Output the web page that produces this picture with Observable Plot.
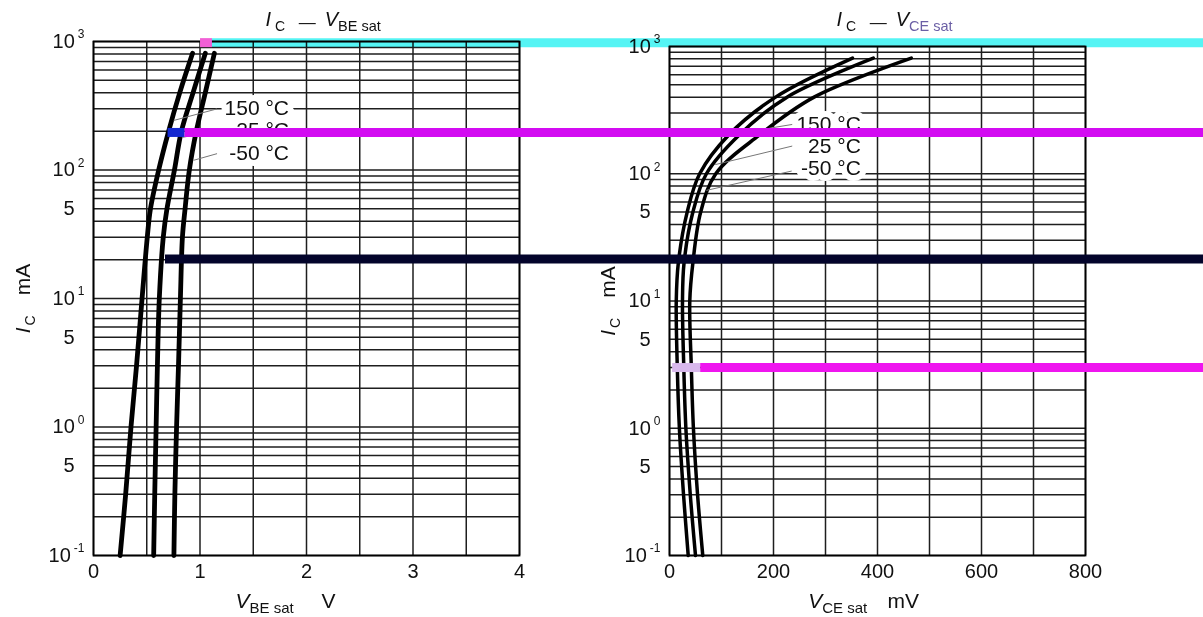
<!DOCTYPE html>
<html><head><meta charset="utf-8">
<script src="https://cdn.jsdelivr.net/npm/d3@7"></script>
<script src="https://cdn.jsdelivr.net/npm/@observablehq/plot@0.6"></script>
<style>
html,body{margin:0;padding:0;background:#fff;overflow:hidden;}
#wrap{position:relative;width:1203px;height:617px;background:#fff;}
#wrap svg{position:absolute;left:0;top:0;}
</style></head><body><div id="wrap"></div>
<script>
// ---------------- data ----------------
const temps = ["150 °C", "25 °C", "-50 °C"];

// Left panel: IC (mA) vs VBE sat (V)
const icLeft = [0.1, 0.3, 1, 3, 10, 30, 50, 100, 200, 400, 810];
const vbe150 = [0.25, 0.302, 0.352, 0.404, 0.456, 0.505, 0.535, 0.612, 0.705, 0.81, 0.93];
const vbe25  = [0.565, 0.575, 0.588, 0.60, 0.618, 0.655, 0.69, 0.76, 0.825, 0.935, 1.05];
const vbeM50 = [0.755, 0.764, 0.78, 0.798, 0.816, 0.835, 0.86, 0.90, 0.965, 1.05, 1.135];

// Right panel: IC (mA) vs VCE sat (mV)
const icRight = [0.1, 0.3, 1, 3, 10, 20, 50, 100, 200, 400, 810];
const vce150 = [64, 54, 46, 42, 39, 45, 60, 89, 172, 278, 465];
const vce25  = [50, 40, 31.5, 27.5, 25, 28, 45, 71, 133, 226, 392];
const vceM50 = [36, 27, 19, 15, 13, 17, 34, 58, 113, 204, 352];

// tick values / labels
const xTicksLeft = [0, 1, 2, 3, 4];
const xTicksRight = [0, 200, 400, 600, 800];
const gridXLeft = [0, 0.5, 1, 1.5, 2, 2.5, 3, 3.5, 4];
const gridXRight = [0, 100, 200, 300, 400, 500, 600, 700, 800];
const yPowTicks = [1000, 100, 10, 1, 0.1];
const yPowLabels = ["10^3", "10^2", "10^1", "10^0", "10^-1"];
const yFiveTicks = [50, 5, 0.5];
const yFiveLabels = ["5", "5", "5"];
const decades = [0.1, 1, 10, 100];
const mantissas = [1, 2, 3, 4, 5, 6, 7, 8, 9];

// annotation anchors (data units)
const labelVLeft = [1.836, 1.836, 1.836];
const labelILeft = [301, 203, 134];
const ptrV1Left = [1.16, 1.16, 1.16];
const ptrI1Left = [299, 203, 134];
const ptrV2Left = [0.753, 0.83, 0.94];
const ptrI2Left = [243, 179, 119];

const labelVRight = [368, 368, 368];
const labelIRight = [244, 164, 111];
const ptrV1Right = [236, 236, 235];
const ptrI1Right = [244, 165, 105];
const ptrV2Right = [192, 88, 71];
const ptrI2Right = [228, 118, 74];

// scan highlight bands (levels in mA, extents in axis units)
const bandLevelLeft = [980, 196, 20.3];
const bandHeadLeft = [1.005, 0.70, 0.676];
const bandStartLeft = [1.117, 0.86, 0.676];
const bandEndLeft = 12;
const bandLevelRight = [3.0];
const bandHeadRight = [6];
const bandStartRight = [60];
const bandEndRight = 1100;

// ---------------- build ----------------
const W = 1203, H = 617;
const FONT = "'Liberation Sans', Arial, Helvetica, sans-serif";
const GRID = "#1e1e1e";
const bandColorsLeft = ["#55f4f4", "#d30cf2", "#03042b"];
const bandHeadColorsLeft = ["#f25fd6", "#1428d0", "#03042b"];
const bandBlendLeft = ["multiply", "normal", "normal"];
const bandColorsRight = ["#ef15ef"];
const bandHeadColorsRight = ["#d8b8ec"];
const bandBlendRight = ["normal"];

const gridY = decades.flatMap(d => mantissas.map(m => m * d)).concat([1000]);
const powRows = yPowTicks.map((v, k) => ({v, s: yPowLabels[k]}));
const fiveRows = yFiveTicks.map((v, k) => ({v, s: yFiveLabels[k]}));

const rowsLeft = [vbe150, vbe25, vbeM50].flatMap((s, k) => icLeft.map((I, j) => ({t: temps[k], i: I, v: s[j]})));
const rowsRight = [vce150, vce25, vceM50].flatMap((s, k) => icRight.map((I, j) => ({t: temps[k], i: I, v: s[j]})));
const labLeft = temps.map((t, k) => ({t, v: labelVLeft[k], i: labelILeft[k]}));
const labRight = temps.map((t, k) => ({t, v: labelVRight[k], i: labelIRight[k]}));
const ptrLeft = temps.map((t, k) => ({x1: ptrV1Left[k], y1: ptrI1Left[k], x2: ptrV2Left[k], y2: ptrI2Left[k]}));
const ptrRight = temps.map((t, k) => ({x1: ptrV1Right[k], y1: ptrI1Right[k], x2: ptrV2Right[k], y2: ptrI2Right[k]}));
const bandsLeft = bandLevelLeft.map((lv, k) => ({lv, head: bandHeadLeft[k], start: bandStartLeft[k], end: bandEndLeft}));
const bandsRight = bandLevelRight.map((lv, k) => ({lv, head: bandHeadRight[k], start: bandStartRight[k], end: bandEndRight}));

function bandMarks(rows, colors, headColors, blends) {
  return rows.flatMap((b, k) => [
    Plot.ruleY([b], {y: "lv", x1: "head", x2: "start", stroke: headColors[k], strokeWidth: 9}),
    Plot.ruleY([b], {y: "lv", x1: "start", x2: "end", stroke: colors[k], strokeWidth: 9, mixBlendMode: blends[k]})
  ]);
}

function panel(opts) {
  return Plot.plot({
    width: W, height: H,
    marginLeft: opts.left, marginRight: W - opts.right, marginTop: opts.top, marginBottom: H - 555,
    style: {background: opts.bg, fontFamily: FONT, fontSize: "20px", color: "#111"},
    x: {domain: opts.xdom, ticks: opts.xticks, tickSize: 0, tickPadding: 8, tickFormat: d => String(d), label: null},
    y: {type: "log", domain: [0.1, 1000], axis: null},
    marks: [
      Plot.ruleX(opts.gridX, {stroke: GRID, strokeWidth: 1.5}),
      Plot.ruleY(gridY, {stroke: GRID, strokeWidth: 1.5}),
      Plot.frame({stroke: "#000", strokeWidth: 1.8}),
      Plot.text(powRows, {y: "v", text: "s", frameAnchor: "left", dx: -9, textAnchor: "end", fontSize: 20, fill: "#111"}),
      Plot.text(fiveRows, {y: "v", text: "s", frameAnchor: "left", dx: -19, textAnchor: "end", fontSize: 20, fill: "#111"}),
      Plot.line(opts.rows, {x: "v", y: "i", z: "t", stroke: "#000", strokeWidth: opts.lw, curve: "catmull-rom"}),
      Plot.link(opts.ptr, {x1: "x1", y1: "y1", x2: "x2", y2: "y2", stroke: "#777", strokeWidth: 1}),
      Plot.text(opts.lab, {x: "v", y: "i", text: "t", textAnchor: "end", fontSize: 21, fill: "#111",
        stroke: "white", strokeWidth: 12, strokeLinejoin: "round", paintOrder: "stroke"}),
      ...opts.bands,
      Plot.text([opts.titleKey], {text: d => d, frameAnchor: "top-left", dx: opts.titleDx, dy: opts.titleDy,
        textAnchor: "start", lineAnchor: "bottom", fontSize: 20, fill: "#111"}),
      Plot.text([opts.xKey], {text: d => d, frameAnchor: "bottom-left", dx: opts.xlabDx, dy: 52,
        textAnchor: "start", lineAnchor: "bottom", fontSize: 21, fill: "#111"}),
      Plot.text([opts.yKey], {text: d => d, frameAnchor: "left", dx: opts.ylabDx, dy: 0, rotate: -90,
        textAnchor: "middle", lineAnchor: "bottom", fontSize: 21, fill: "#111"})
    ]
  });
}

const right = panel({
  left: 669, right: 1085, top: 46, bg: "white", xdom: [0, 800], xticks: xTicksRight, gridX: gridXRight,
  rows: rowsRight, lw: 3.5, ptr: ptrRight, lab: labRight,
  bands: bandMarks(bandsRight, bandColorsRight, bandHeadColorsRight, bandBlendRight),
  titleKey: "§TR", titleDx: 836 - 669, titleDy: 25 - 46,
  xKey: "§XR", xlabDx: 807.7 - 669, yKey: "§YR", ylabDx: -55
});
const left = panel({
  left: 93, right: 519, top: 41, bg: "transparent", xdom: [0, 4], xticks: xTicksLeft, gridX: gridXLeft,
  rows: rowsLeft, lw: 4.8, ptr: ptrLeft, lab: labLeft,
  bands: bandMarks(bandsLeft, bandColorsLeft, bandHeadColorsLeft, bandBlendLeft),
  titleKey: "§TL", titleDx: 265 - 93, titleDy: 25 - 41,
  xKey: "§XL", xlabDx: 235 - 93, yKey: "§YL", ylabDx: -64
});

const wrap = document.getElementById("wrap");
wrap.appendChild(right);
wrap.appendChild(left);

// ---------------- rich text post-processing ----------------
const NS = "http://www.w3.org/2000/svg";
function rich(svg, key, segs) {
  svg.querySelectorAll("text").forEach(t => {
    if (t.textContent !== key) return;
    while (t.firstChild) t.removeChild(t.firstChild);
    let shift = 0;
    segs.forEach(s => {
      const ts = document.createElementNS(NS, "tspan");
      ts.textContent = s.t;
      if (s.italic) ts.setAttribute("font-style", "italic");
      if (s.size) ts.setAttribute("font-size", s.size);
      const target = s.shift || 0;
      if (target !== shift) ts.setAttribute("dy", target - shift);
      shift = target;
      if (s.dx) ts.setAttribute("dx", s.dx);
      if (s.fill) ts.setAttribute("fill", s.fill);
      t.appendChild(ts);
    });
  });
}
function titleSegs(sub, subFill) {
  return [
    {t: "I", italic: true},
    {t: "C", size: 14, shift: 5, dx: 4},
    {t: "—", size: 17, shift: 2, dx: 13.5},
    {t: "V", italic: true, shift: 0, dx: 9},
    {t: sub, size: 14.5, shift: 5, fill: subFill}
  ];
}
rich(left, "§TL", titleSegs("BE sat"));
rich(right, "§TR", titleSegs("CE sat", "#6b5fa5"));
rich(left, "§XL", [{t: "V", italic: true}, {t: "BE sat", size: 15, shift: 5}, {t: "V", shift: 0, dx: 27.7}]);
rich(right, "§XR", [{t: "V", italic: true}, {t: "CE sat", size: 15, shift: 5}, {t: "mV", shift: 0, dx: 20.4}]);
const ySegs = [{t: "I", italic: true}, {t: "C", size: 14, shift: 5, dx: 2}, {t: "mA", shift: 0, dx: 20}];
rich(left, "§YL", ySegs);
rich(right, "§YR", ySegs);

[left, right].forEach(svg => {
  svg.querySelectorAll("text").forEach(t => {
    const s = t.textContent;
    if (s.includes("^")) {
      const [b, e] = s.split("^");
      while (t.firstChild) t.removeChild(t.firstChild);
      const tb = document.createElementNS(NS, "tspan"); tb.textContent = b; t.appendChild(tb);
      const te = document.createElementNS(NS, "tspan"); te.textContent = e;
      te.setAttribute("font-size", 12); te.setAttribute("dy", -9.5); te.setAttribute("dx", 3);
      t.appendChild(te);
    }
  });
});
</script></body></html>
